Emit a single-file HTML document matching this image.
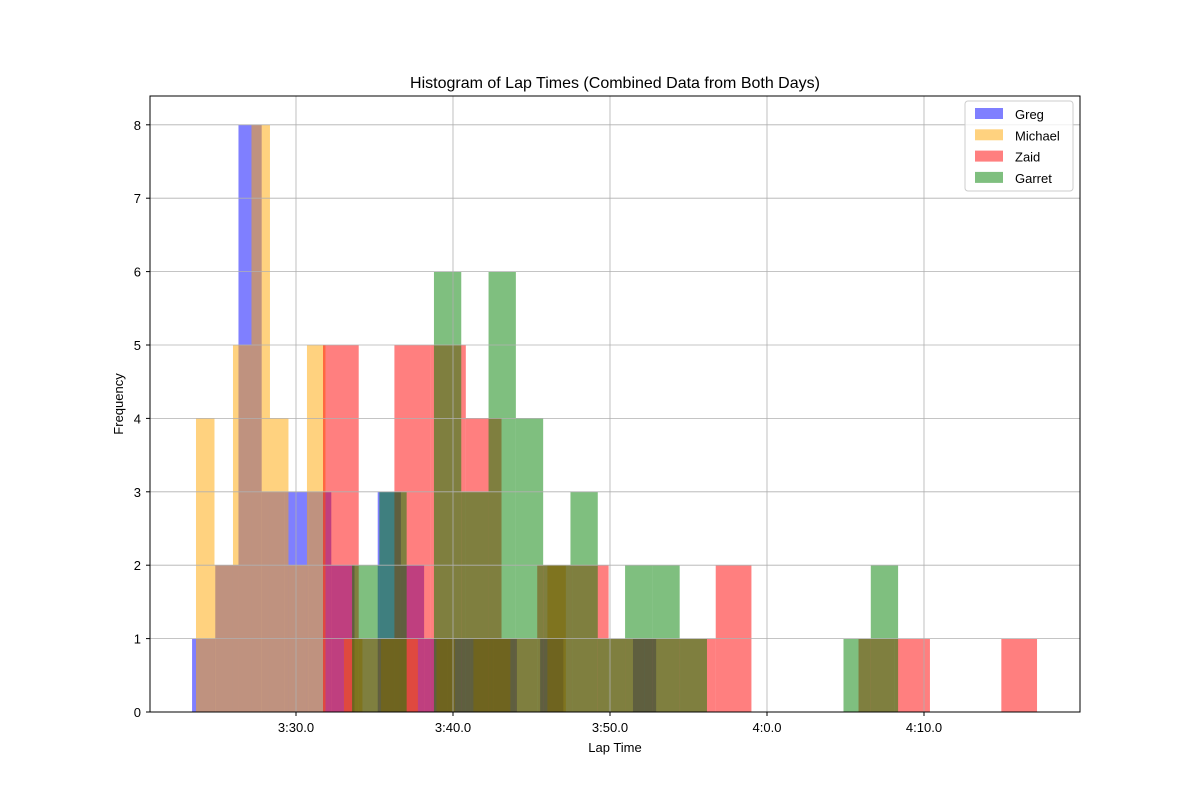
<!DOCTYPE html>
<html><head><meta charset="utf-8"><style>
body{margin:0;background:#fff;font-family:"Liberation Sans","DejaVu Sans",sans-serif;}
</style></head><body>
<svg id="chart" width="1200" height="800" xmlns="http://www.w3.org/2000/svg">
<rect width="1200" height="800" fill="#fff"/>
<text x="615" y="88" text-anchor="middle" font-size="16" fill="#000">Histogram of Lap Times (Combined Data from Both Days)</text>
<g id="bars"></g>
<g id="grid"></g>
<rect x="150" y="96" width="930" height="616" fill="none" stroke="#000" stroke-width="1"/>
<g id="ticks"></g>
<text x="615" y="752" text-anchor="middle" font-size="13">Lap Time</text>
<text transform="translate(123,404) rotate(-90)" text-anchor="middle" font-size="13">Frequency</text>
<g id="legend"></g>
</svg>
<script>
const seriesNames = ["Greg","Michael","Zaid","Garret"];
const seriesColors = ["#0000ff","#ffa500","#ff0000","#008000"];
const lapMin = [203.38, 203.63, 211.72, 213.57];
const lapMax = [232.94, 227.19, 257.20, 248.35];
const gregCounts = [1,2,8,3,3,3,2,0,3,2,1,1,1,1,0,1,0,0,0,1];
const michaelCounts = [4,2,5,8,4,2,5,0,1,0,1,1,0,1,0,1,1,0,0,2];
const zaidCounts = [5,1,5,5,4,1,2,2,1,1,1,2,0,0,0,1,1,0,0,1];
const garretCounts = [2,3,0,6,3,6,4,2,3,1,2,2,1,0,0,0,0,0,1,2];
const yTicks = [0,1,2,3,4,5,6,7,8];
const xTickValues = [210,220,230,240,250];
const xTickLabels = ["3:30.0","3:40.0","3:50.0","4:0.0","4:10.0"];

const allCounts = [gregCounts, michaelCounts, zaidCounts, garretCounts];
const NS = "http://www.w3.org/2000/svg";
function xs(s){ return 296 + (s-210)*15.7; }
function ys(c){ return 712 - c*73.4; }
function mk(tag, attrs, parent){
  const e = document.createElementNS(NS, tag);
  for (const k in attrs) e.setAttribute(k, attrs[k]);
  parent.appendChild(e);
  return e;
}
const bars = document.getElementById('bars');
allCounts.forEach((counts, si) => {
  const w = (lapMax[si]-lapMin[si])/counts.length;
  counts.forEach((c, i) => {
    if (!c) return;
    const x0 = xs(lapMin[si]+i*w), x1 = xs(lapMin[si]+(i+1)*w);
    const r = mk('rect', {x:x0, y:ys(c), width:x1-x0, height:ys(0)-ys(c), fill:seriesColors[si], 'fill-opacity':0.5}, bars);
    
    
  });
});
const grid = document.getElementById('grid');
const ticks = document.getElementById('ticks');
yTicks.forEach(v => {
  const l = mk('line', {x1:150, x2:1080, y1:ys(v), y2:ys(v), stroke:'#b0b0b0', 'stroke-width':0.8}, grid);
  
  
  mk('line', {x1:146, x2:150, y1:ys(v), y2:ys(v), stroke:'#000'}, ticks);
  const t = mk('text', {x:141, y:ys(v)+5, 'text-anchor':'end', 'font-size':13}, ticks);
  t.textContent = v;
  
  
});
xTickValues.forEach((v, i) => {
  const l = mk('line', {x1:xs(v), x2:xs(v), y1:96, y2:712, stroke:'#b0b0b0', 'stroke-width':0.8}, grid);
  
  
  mk('line', {x1:xs(v), x2:xs(v), y1:712, y2:716, stroke:'#000'}, ticks);
  const t = mk('text', {x:xs(v), y:732, 'text-anchor':'middle', 'font-size':13}, ticks);
  t.textContent = xTickLabels[i];
  
  
});
const lg = document.getElementById('legend');
mk('rect', {x:965, y:101, width:108, height:90, rx:3, fill:'#fff', 'fill-opacity':0.8, stroke:'#ccc'}, lg);
seriesNames.forEach((n, i) => {
  const y = 114 + i*21.3;
  const sw = mk('rect', {x:975, y:y-6, width:28, height:11, fill:seriesColors[i], 'fill-opacity':0.5}, lg);
  
  
  const t = mk('text', {x:1015, y:y+5, 'font-size':13}, lg);
  t.textContent = n;
  
  
});
</script>
</body></html>
